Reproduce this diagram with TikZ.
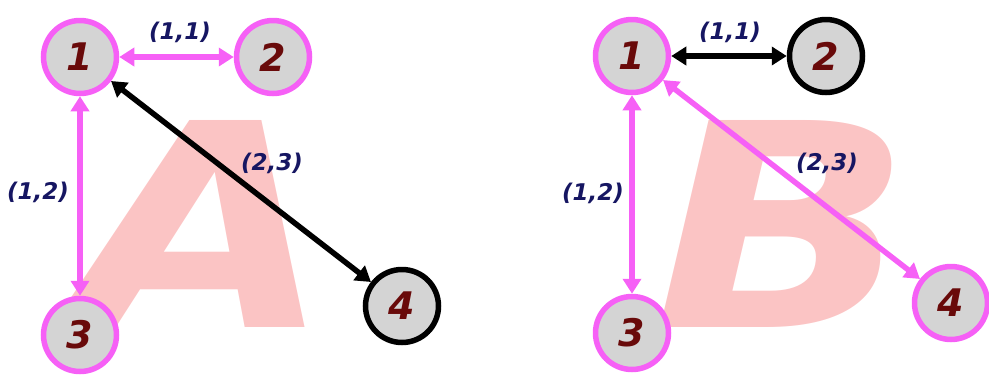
\documentclass[tikz,border=0pt]{standalone}
\usepackage{fontspec}
\usepackage{tikz}
\usetikzlibrary{arrows.meta}
\newfontfamily\graphfont{DejaVu Sans Bold Oblique}
\definecolor{edgemagenta}{RGB}{246,96,246}
\definecolor{letterpink}{RGB}{251,196,196}
\definecolor{vertexgrey}{RGB}{212,212,212}
\definecolor{digitred}{RGB}{105,10,10}
\definecolor{labelnavy}{RGB}{22,22,98}
\tikzstyle{pinkarrow} = [<->, >={Triangle[length=15pt,width=18pt]}, line width=5.5pt, draw=edgemagenta]
\tikzstyle{blackarrow} = [pinkarrow, draw=black]
\tikzset{vertex/.style={circle, fill=vertexgrey, draw=edgemagenta, line width=5.5pt, minimum size=73pt, inner sep=0pt, text=digitred, font=\graphfont\fontsize{38}{38}\selectfont},
  weight/.style={text=labelnavy, font=\graphfont\fontsize{23}{23}\selectfont},
  bigletter/.style={text=letterpink, inner sep=0pt, font=\graphfont\fontsize{284}{284}\selectfont},}

\begin{document}
\begin{tikzpicture}[x=1pt,y=-1pt]
    \useasboundingbox (0,0) rectangle (989,376);
    % Draw the big letters behind both graphs
    \node[bigletter, anchor=base] (letterA) at (203,327) {\scalebox{1.18}[1]{A}};
    \node[bigletter, anchor=base] (letterB) at (783,327) {\scalebox{1.2}[1]{B}};

    % Graph A
    \node[vertex] (a1) at (80,57) {1};
    \node[vertex] (a2) at (273,57) {2};
    \node[vertex] (a3) at (80,335) {3};
    \node[vertex, draw=black] (a4) at (402,306) {4};
    \draw[pinkarrow] (a1) -- (a2);
    \draw[pinkarrow] (a1) -- (a3);
    \draw[blackarrow] (a1) -- (a4);
    \node[weight] (wa12) at (180,32) {(1,1)};
    \node[weight] (wa13) at (38,192) {(1,2)};
    \node[weight] (wa14) at (272,163) {(2,3)};

    % Graph B
    \node[vertex] (b1) at (632,56) {1};
    \node[vertex, draw=black] (b2) at (826,56) {2};
    \node[vertex] (b3) at (632,333) {3};
    \node[vertex] (b4) at (951,303) {4};
    \draw[blackarrow] (b1) -- (b2);
    \draw[pinkarrow] (b1) -- (b3);
    \draw[pinkarrow] (b1) -- (b4);
    \node[weight] (wb12) at (730,32) {(1,1)};
    \node[weight] (wb13) at (593,193) {(1,2)};
    \node[weight] (wb14) at (827,163) {(2,3)};
\end{tikzpicture}
\end{document}
